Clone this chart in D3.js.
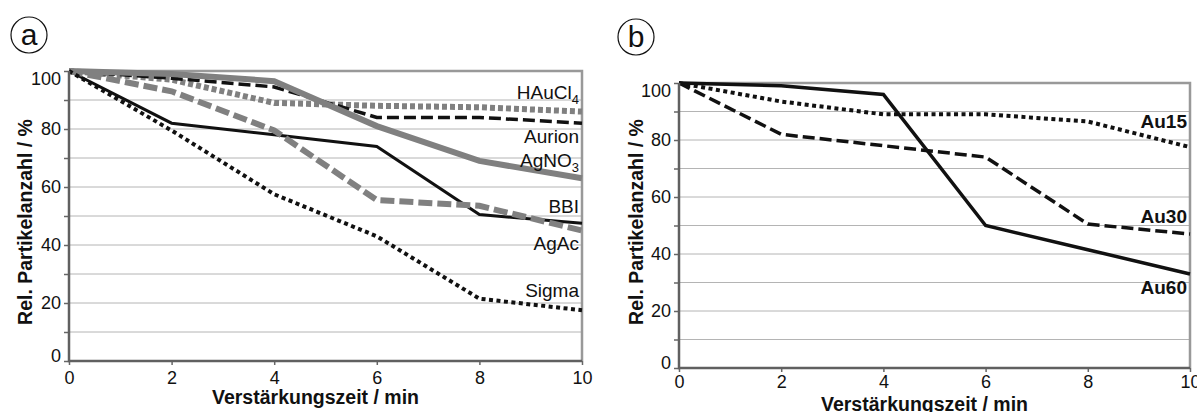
<!DOCTYPE html>
<html>
<head>
<meta charset="utf-8">
<style>
    body { margin: 0; background: white; }
    text { font-family: "Liberation Sans", Arial, Helvetica, sans-serif; fill: #111; }
    .grid line { stroke: #b4b4b4; stroke-width: 1px; }
    .tick text { font-size: 18px; }
    .axtitle { font-size: 19.5px; font-weight: bold; }
    .lbl { font-size: 19px; }
</style>
<script src="https://d3js.org/d3.v7.min.js"></script>
</head>
<body>
<svg id="chart" width="1197" height="412"></svg>
<script>
// data
var times = [0, 2, 4, 6, 8, 10];
var yTicks = [0, 10, 20, 30, 40, 50, 60, 70, 80, 90, 100];

// panel a
var hauCl4 = [100, 97, 89, 88, 87.5, 86];
var aurion = [100, 97.5, 94.5, 84, 84, 82];
var agNO3  = [100, 99, 96.5, 81, 69, 63];
var bbi    = [100, 82, 78, 74, 50.5, 47.5];
var agAc   = [100, 93, 79.5, 55.5, 53.5, 45];
var sigma  = [100, 79.5, 57.5, 43, 21.5, 17.5];

// panel b
var au15 = [100, 93.5, 89, 89, 86.5, 77.5];
var au30 = [100, 82, 78, 74, 50.5, 47];
var au60 = [100, 99, 96, 50, 41.5, 33];

var svg = d3.select("#chart");

function panel(opt) {
    var x = d3.scaleLinear().domain([0, 10]).range([opt.left, opt.right]);
    var y = d3.scaleLinear().domain([0, 100]).range([opt.bottom, opt.top]);
    var g = svg.append("g");

    // gridlines
    g.append("g").attr("class", "grid")
        .selectAll("line").data(yTicks.filter(d => d > 0 && d < 100)).join("line")
        .attr("x1", opt.left).attr("x2", opt.right)
        .attr("y1", d => y(d)).attr("y2", d => y(d));

    // frame: top and right
    g.append("path")
        .attr("d", "M" + opt.left + "," + y(100) + "H" + opt.right + "V" + y(0))
        .attr("fill", "none").attr("stroke", "#999").attr("stroke-width", 2.5);

    // series
    var line = d3.line().x((d, i) => x(times[i])).y(d => y(d));
    opt.series.forEach(function (s) {
        g.append("path")
            .datum(s.values)
            .attr("d", line)
            .attr("fill", "none")
            .attr("stroke", s.color)
            .attr("stroke-width", s.width)
            .attr("stroke-dasharray", s.dash || null)
            .attr("stroke-linejoin", "miter");
    });

    // y axis
    var ay = g.append("g")
        .attr("transform", "translate(" + opt.left + ",0)")
        .call(d3.axisLeft(y).tickValues(yTicks).tickSize(5).tickPadding(3)
            .tickFormat(d => d % 20 === 0 ? d : ""));
    ay.select(".domain").remove();
    ay.selectAll(".tick line").attr("stroke", "#666").attr("stroke-width", 1.5);
    ay.selectAll(".tick text").attr("dy", d => d === 100 ? "0.75em" : d === 0 ? "0.05em" : "0.32em");

    // x axis
    var ax = g.append("g")
        .attr("transform", "translate(0," + opt.bottom + ")")
        .call(d3.axisBottom(x).tickValues(times).tickSize(4).tickPadding(opt.xPad));
    ax.select(".domain").remove();
    ax.selectAll(".tick line").attr("stroke", "#666").attr("stroke-width", 1.5);

    // main axes lines
    g.append("path")
        .attr("d", "M" + opt.left + "," + y(100) + "V" + opt.bottom + "H" + opt.right)
        .attr("fill", "none").attr("stroke", "#606060").attr("stroke-width", 2.5);

    // titles
    g.append("text").attr("class", "axtitle")
        .attr("x", (opt.left + opt.right) / 2 - 10).attr("y", opt.xTitleY)
        .attr("text-anchor", "middle").text("Verstärkungszeit / min");
    g.append("text").attr("class", "axtitle")
        .attr("transform", "translate(" + opt.yTitleX + "," + 222 + ") rotate(-90)")
        .attr("text-anchor", "middle").text("Rel. Partikelanzahl / %");

    // series labels
    opt.series.forEach(function (s) {
        var t = g.append("text").attr("class", "lbl")
            .attr("x", opt.right - 3).attr("y", s.ly)
            .attr("text-anchor", "end")
            .style("font-weight", opt.boldLabels ? "bold" : "normal");
        t.append("tspan").text(s.name);
        if (s.sub) {
            t.append("tspan").attr("dy", 5).style("font-size", "13px").text(s.sub);
        }
    });

    // panel letter
    svg.append("circle").attr("cx", opt.cx).attr("cy", opt.cy).attr("r", 18)
        .attr("fill", "none").attr("stroke", "#111").attr("stroke-width", 1.2);
    svg.append("text").attr("x", opt.cx).attr("y", opt.cy + 10)
        .attr("text-anchor", "middle").style("font-size", "30px").text(opt.letter);
}

panel({
    left: 69, right: 582, top: 71, bottom: 361,
    xTitleY: 404, yTitleX: 32, cx: 29, cy: 35, letter: "a", xPad: 6,
    boldLabels: false,
    series: [
        { name: "HAuCl", sub: "4", values: hauCl4, color: "#808080", width: 6, dash: "5,3", ly: 99 },
        { name: "Aurion", values: aurion, color: "#111", width: 3.5, dash: "12,5", ly: 143 },
        { name: "AgNO", sub: "3", values: agNO3, color: "#808080", width: 6, ly: 167 },
        { name: "BBI", values: bbi, color: "#111", width: 3, ly: 213 },
        { name: "AgAc", values: agAc, color: "#808080", width: 6, dash: "14,5", ly: 250 },
        { name: "Sigma", values: sigma, color: "#111", width: 4, dash: "4,3.5", ly: 297 }
    ]
});

panel({
    left: 679, right: 1190, top: 83, bottom: 368,
    xTitleY: 411, yTitleX: 643, cx: 636, cy: 37, letter: "b", xPad: 3,
    boldLabels: true,
    series: [
        { name: "Au15", values: au15, color: "#111", width: 4, dash: "4,3.5", ly: 128 },
        { name: "Au30", values: au30, color: "#111", width: 3.5, dash: "12,5", ly: 223 },
        { name: "Au60", values: au60, color: "#111", width: 3.5, ly: 294 }
    ]
});
</script>
</body>
</html>
